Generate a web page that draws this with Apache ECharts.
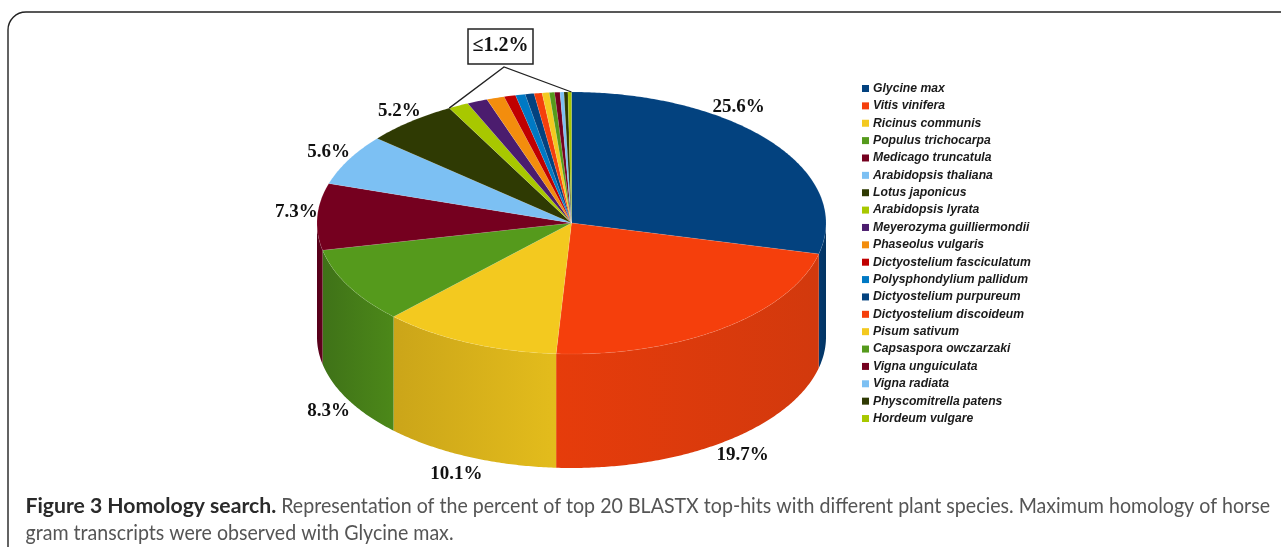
<!DOCTYPE html>
<html>
<head>
<meta charset="utf-8">
<style>html,body{margin:0;padding:0;background:#fff}#chart{width:1281px;height:547px}</style>
<script src="https://cdn.jsdelivr.net/npm/echarts@6/dist/echarts.min.js"></script>
</head>
<body>
<div id="chart"></div>
<script>
// BLASTX top-hit species and the percentage of hits for each.
const species = ['Glycine max','Vitis vinifera','Ricinus communis','Populus trichocarpa','Medicago truncatula','Arabidopsis thaliana','Lotus japonicus','Arabidopsis lyrata','Meyerozyma guilliermondii','Phaseolus vulgaris','Dictyostelium fasciculatum','Polysphondylium pallidum','Dictyostelium purpureum','Dictyostelium discoideum','Pisum sativum','Capsaspora owczarzaki','Vigna unguiculata','Vigna radiata','Physcomitrella patens','Hordeum vulgare'];
const percents = [25.6,19.7,10.1,8.3,7.3,5.6,5.2,1.15,1.15,1.0,0.65,0.55,0.5,0.45,0.4,0.3,0.3,0.22,0.22,0.2];
const colors = ['#03427f','#f53f0c','#f3c91f','#559a1c','#75001f','#7cc0f3','#2f3a03','#a8c800','#4b1c6e','#f38d0d','#c00000','#0079c4','#03427f','#f53f0c','#f3c91f','#559a1c','#75001f','#7cc0f3','#2f3a03','#a8c800'];
// Side-wall shading, left to right, for the slices that reach the front of the drum.
const wallShades = {0:['#03396f','#033462'],1:['#e63c0b','#d2390d'],2:['#cba519','#e3bc1c'],3:['#3f7218','#4c8819'],4:['#55001a','#62001c']};
// Label nudges away from each slice's rim midpoint, in pixels.
const labelNudges = {0:[-33,-35],1:[20,127],2:[-12,131],3:[-20,125],4:[-21,-5],5:[-20,-8],6:[-11,-10]};
// Caption, laid out word by word so the first line is justified.
const captionBold = 'Figure 3 Homology search.';
const captionLine1 = 'Representation of the percent of top 20 BLASTX top-hits with different plant species. Maximum homology of horse';
const captionLine2 = 'gram transcripts were observed with Glycine max.';

const total = percents.reduce((a, b) => a + b, 0);
const C = {x: 571.5, y: 223, rx: 254.5, ry: 131, depth: 114};

// Angles run clockwise from twelve o'clock, in radians.
const rim = (t, drop) => [C.x + C.rx * Math.sin(t), C.y - C.ry * Math.cos(t) + (drop || 0)];
function arcPoints(t0, t1, drop) {
  const n = Math.max(2, Math.ceil((t1 - t0) / 0.01));
  const pts = [];
  for (let i = 0; i <= n; i++) pts.push(rim(t0 + (t1 - t0) * i / n, drop));
  return pts;
}
const angleBefore = i => percents.slice(0, i).reduce((a, b) => a + b, 0) / total * Math.PI * 2;

function renderSlice(params, api) {
  const i = params.seriesIndex;
  const value = api.value(0);
  const t0 = angleBefore(i);
  const t1 = t0 + value / total * Math.PI * 2;
  const children = [];
  // Front wall: only the part of the slice between 3 and 9 o'clock shows.
  const a = Math.max(t0, Math.PI / 2), b = Math.min(t1, Math.PI * 1.5);
  if (b > a) {
    const shade = wallShades[i] || [colors[i], colors[i]];
    children.push({
      type: 'polygon',
      shape: {points: arcPoints(a, b, 0).concat(arcPoints(a, b, C.depth).reverse())},
      style: {fill: new echarts.graphic.LinearGradient(0, 0, 1, 0, [{offset: 0, color: shade[0]}, {offset: 1, color: shade[1]}])}
    });
  }
  // Top face.
  children.push({
    type: 'polygon',
    shape: {points: [[C.x, C.y]].concat(arcPoints(t0, t1, 0))},
    style: {fill: colors[i], stroke: 'rgba(255,255,255,0.16)', lineWidth: 0.6}
  });
  // Percent label for the larger slices.
  const nudge = labelNudges[i];
  if (nudge) {
    const p = rim((t0 + t1) / 2, 0);
    children.push({
      type: 'text',
      z2: 10,
      x: p[0] + nudge[0],
      y: p[1] + nudge[1],
      style: {text: value + '%', fill: '#111', font: 'bold 19px "Liberation Serif"', align: 'center', verticalAlign: 'middle'}
    });
  }
  return {type: 'group', children};
}

// Caption type: scale factors keep the measured line widths.
const FONT_R = '20.5px "Lato"', FONT_B = 'bold 20.5px "Lato"';
const ctx = document.createElement('canvas').getContext('2d');
const measure = (s, font) => { ctx.font = font; return ctx.measureText(s).width; };
const scaleR = 428 / measure(captionLine2, FONT_R);
const scaleB = 251 / measure(captionBold, FONT_B);

function captionTexts() {
  const left = 25.5, right = 1270, y = 506;
  const words = captionBold.split(' ').map(w => ({w, font: FONT_B, s: scaleB, fill: '#2a2a2a'}))
    .concat(captionLine1.split(' ').map(w => ({w, font: FONT_R, s: scaleR, fill: '#555'})));
  words.forEach(o => { o.width = measure(o.w, o.font) * o.s; });
  const gap = (right - left - words.reduce((a, o) => a + o.width, 0)) / (words.length - 1);
  let x = left;
  const out = words.map(o => {
    const el = {type: 'text', x, y, scaleX: o.s, z: 6, style: {text: o.w, font: o.font, fill: o.fill, verticalAlign: 'middle'}};
    x += o.width + gap;
    return el;
  });
  out.push({type: 'text', x: left, y: 533, scaleX: scaleR, z: 6, style: {text: captionLine2, font: FONT_R, fill: '#555', verticalAlign: 'middle'}});
  return out;
}

const smallStart = rim(angleBefore(7), 0);
const chart = echarts.init(document.getElementById('chart'), null, {renderer: 'canvas'});
chart.setOption({
  animation: false,
  backgroundColor: '#fff',
  legend: {
    orient: 'vertical', left: 862, top: 81.5, padding: 0,
    icon: 'rect', itemWidth: 7, itemHeight: 7, itemGap: 3.37,
    selectedMode: false,
    data: species,
    textStyle: {fontFamily: '"Liberation Sans"', fontWeight: 'bold', fontStyle: 'italic', fontSize: 12.2, color: '#1a1a1a', lineHeight: 14, padding: [0, 0, 0, -1]}
  },
  series: species.map((name, i) => ({
    type: 'custom',
    name,
    coordinateSystem: 'none',
    silent: true,
    itemStyle: {color: colors[i]},
    data: [[percents[i]]],
    renderItem: renderSlice
  })),
  graphic: [
    {type: 'rect', shape: {x: 8, y: 12, width: 1500, height: 800, r: [18, 0, 0, 0]}, style: {fill: 'none', stroke: '#222', lineWidth: 1.4}, z: -1},
    {type: 'polyline', shape: {points: [smallStart, [504, 67], rim(0, 0)]}, style: {fill: 'none', stroke: '#222', lineWidth: 1.3}, z: 5},
    {type: 'rect', shape: {x: 468, y: 29, width: 65, height: 35}, style: {fill: '#fff', stroke: '#222', lineWidth: 1.5}, z: 5},
    {type: 'text', x: 500.5, y: 46, z: 6, style: {text: '≤1.2%', fill: '#111', font: 'bold 20px "Liberation Serif"', align: 'center', verticalAlign: 'middle'}}
  ].concat(captionTexts())
});
</script>
</body>
</html>
